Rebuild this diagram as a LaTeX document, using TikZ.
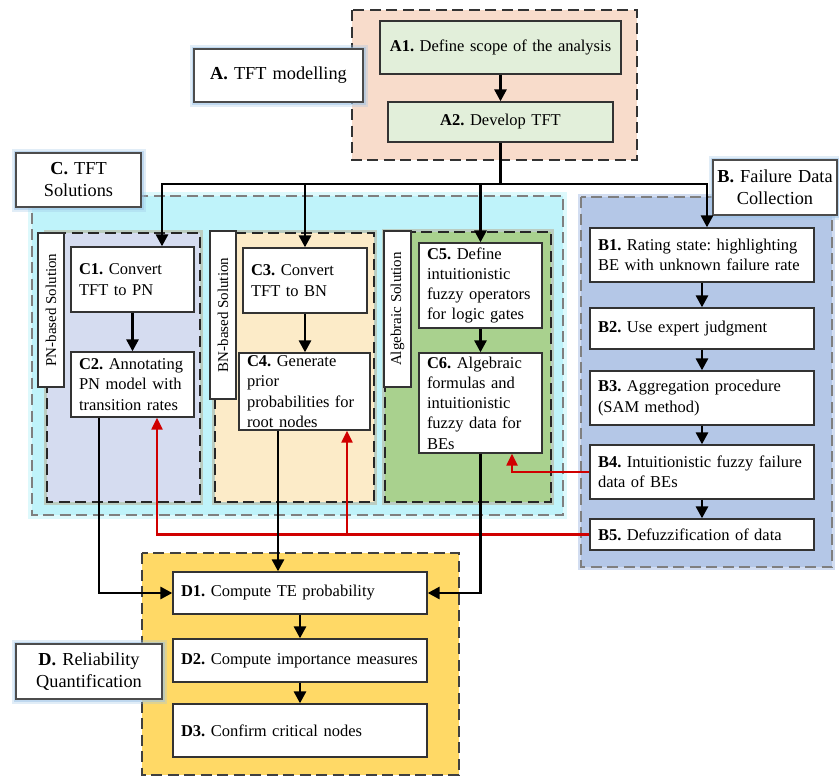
\documentclass[tikz,border=0pt]{standalone}
\usepackage{fontspec}
\setmainfont{Liberation Serif}
\usetikzlibrary{arrows.meta}
\definecolor{agrp}{HTML}{F8DCCB}
\definecolor{abox}{HTML}{E2EFDA}
\definecolor{cgrp}{HTML}{BFF3FA}
\definecolor{cglow}{HTML}{DDF9FC}
\definecolor{pngrp}{HTML}{D5DCF0}
\definecolor{bngrp}{HTML}{FCEBC8}
\definecolor{alggrp}{HTML}{A9D18E}
\definecolor{bgrp}{HTML}{B4C7E7}
\definecolor{dgrp}{HTML}{FFD966}
\definecolor{glowblue}{HTML}{9DC3E6}
\definecolor{redline}{HTML}{D00000}
\definecolor{tanglow}{HTML}{B8A88A}
\definecolor{dashgray}{HTML}{7F7F7F}
\begin{document}
\frenchspacing
\begin{tikzpicture}[x=1pt,y=-1pt,
  dsh/.style={dash pattern=on 11pt off 5.5pt},
  grpA/.style={draw=black!80, dsh, line width=2.4pt, fill=agrp},
  grpC/.style={draw=dashgray, dsh, line width=2pt, fill=cgrp, preaction={draw=cglow, line width=8pt}},
  grpB/.style={draw=dashgray, dsh, line width=2pt, fill=bgrp, preaction={draw=bgrp!60, line width=6pt}},
  grpD/.style={draw=black!75, dsh, line width=2.4pt, fill=dgrp},
  subgrp/.style={draw=black!85, dsh, line width=2.4pt, preaction={draw=tanglow, line width=5.5pt, opacity=0.5}},
  box/.style={draw=black!80, line width=1.3pt, fill=white, inner xsep=8pt, inner ysep=0pt, align=left, font=\fontsize{16.5}{20.3}\selectfont},
  abx/.style={box, fill=abox, align=center},
  lab/.style={draw=black!70, line width=1.3pt, fill=white, inner xsep=2pt, inner ysep=0pt, align=center, font=\fontsize{18.3}{22}\selectfont,
    preaction={draw=glowblue, line width=9pt, opacity=0.3}, preaction={draw=glowblue, line width=5pt, opacity=0.5}},
  vlab/.style={draw=black!80, line width=1.3pt, fill=white, inner sep=0pt, rotate=90, font=\fontsize{15}{18}\selectfont},
  wh/.style 2 args={text width=#1, minimum height=#2},
  arr/.style={-{Triangle[length=12pt,width=12pt]}, line width=2.8pt, black},
  redarr/.style={-{Triangle[length=12pt,width=11pt]}, line width=2.2pt, redline}
]
\useasboundingbox (0,0) rectangle (839,777);

% ---- group backgrounds ----
\draw[grpA] (352,10) rectangle (637,160);
\draw[grpC] (32,196) rectangle (563,515);
\draw[subgrp, fill=pngrp] (47,233) rectangle (200,502);
\draw[subgrp, fill=bngrp] (215,233) rectangle (374,502);
\draw[subgrp, fill=alggrp] (385,232) rectangle (551,502);
\draw[grpB] (581,197) rectangle (832,567);
\draw[grpD] (142,553) rectangle (459,775);

% ---- A ----
\node[abx, wh={225pt}{53pt}] (a1) at (500.5,47.5) {\textbf{A1.} Define scope of the analysis};
\node[abx, wh={209pt}{40pt}] (a2) at (500.5,122) {\textbf{A2.} Develop TFT};
\node[lab, wh={165pt}{53pt}] (alab) at (278.5,75.5) {\textbf{A.} TFT modelling};

% ---- C ----
\node[lab, wh={121pt}{54pt}] (clab) at (78.5,180) {\textbf{C.} TFT\\Solutions};
\node[vlab, minimum width=154pt, minimum height=26pt] (pnlab) at (51,310) {PN-based Solution};
\node[vlab, minimum width=168pt, minimum height=26pt] (bnlab) at (223,315) {BN-based Solution};
\node[vlab, minimum width=156pt, minimum height=27pt] (alglab) at (397.5,309) {Algebraic Solution};
\node[box, wh={107pt}{65pt}] (c1) at (132.5,279.5) {\textbf{C1.} Convert\\TFT to PN};
\node[box, wh={107pt}{65pt}] (c2) at (132.5,384.5) {\textbf{C2.} Annotating\\PN model with\\transition rates};
\node[box, wh={108pt}{65pt}] (c3) at (305,280.5) {\textbf{C3.} Convert\\TFT to BN};
\node[box, wh={115pt}{77pt}] (c4) at (304.5,391.5) {\textbf{C4.} Generate\\prior\\probabilities for\\root nodes};
\node[box, wh={107pt}{85pt}] (c5) at (480.5,285.5) {\textbf{C5.} Define\\intuitionistic\\fuzzy operators\\for logic gates};
\node[box, wh={107pt}{100pt}] (c6) at (480.5,403) {\textbf{C6.} Algebraic\\formulas and\\intuitionistic\\fuzzy data for\\BEs};

% ---- B ----
\node[lab, wh={120pt}{55pt}] (blab) at (775,187.5) {\textbf{B.} Failure Data\\Collection};
\node[box, wh={208pt}{54pt}] (b1) at (702,255) {\textbf{B1.} Rating state: highlighting\\BE with unknown failure rate};
\node[box, wh={208pt}{41pt}] (b2) at (702,328.5) {\textbf{B2.} Use expert judgment};
\node[box, wh={208pt}{54pt}] (b3) at (702,398) {\textbf{B3.} Aggregation procedure\\(SAM method)};
\node[box, wh={208pt}{54pt}] (b4) at (702,472) {\textbf{B4.} Intuitionistic fuzzy failure\\data of BEs};
\node[box, wh={208pt}{31pt}] (b5) at (702,534.5) {\textbf{B5.} Defuzzification of data};

% ---- D ----
\node[box, wh={238pt}{42pt}] (d1) at (300,593) {\textbf{D1.} Compute TE probability};
\node[box, wh={238pt}{43pt}] (d2) at (300,660.5) {\textbf{D2.} Compute importance measures};
\node[box, wh={238pt}{53pt}] (d3) at (300,730.5) {\textbf{D3.} Confirm critical nodes};
\node[lab, wh={142pt}{55pt}] (dlab) at (89,671.5) {\textbf{D.} Reliability\\Quantification};

% ---- connectors ----
\coordinate (bus) at (500.5,184);
\coordinate (c1in) at ([xshift=29.5pt]c1.north);
\coordinate (b1in) at ([xshift=5pt]b1.north);
\draw[arr] (a1) -- (a2);
\draw[line width=2.8pt] (a2.south) -- (bus);
\draw[arr] (bus) -| (c1in);
\draw[arr] (bus) -| (c3.north);
\draw[arr] (bus) -| (c5.north);
\draw[arr] (bus) -| (b1in);

\draw[arr] (c1) -- (c2);
\draw[arr] (c3.south) -- (c3.south |- c4.north);
\draw[arr] (c5) -- (c6);
\draw[arr] (b1) -- (b2);
\draw[arr] (b2) -- (b3);
\draw[arr] (b3) -- (b4);
\draw[arr] (b4) -- (b5);
\draw[arr] (d1) -- (d2);
\draw[arr] (d2) -- (d3);

% red feedback
\coordinate (r2) at ([xshift=24.5pt]c2.south);
\coordinate (r4) at ([xshift=42.5pt]c4.south);
\coordinate (r6) at ([xshift=31.5pt]c6.south);
\draw[redarr] (b5.west) -| (r2);
\draw[redarr] (r4 |- b5.west) -- (r4);
\draw[redarr] (b4.west) -| (r6);

% to D
\coordinate (k2) at ([xshift=-33.5pt]c2.south);
\coordinate (k4) at ([xshift=-26.5pt]c4.south);
\draw[arr] (k2) |- (d1.west);
\draw[arr] (k4) -- (k4 |- d1.north);
\draw[arr] (c6.south) |- (d1.east);
\end{tikzpicture}
\end{document}
